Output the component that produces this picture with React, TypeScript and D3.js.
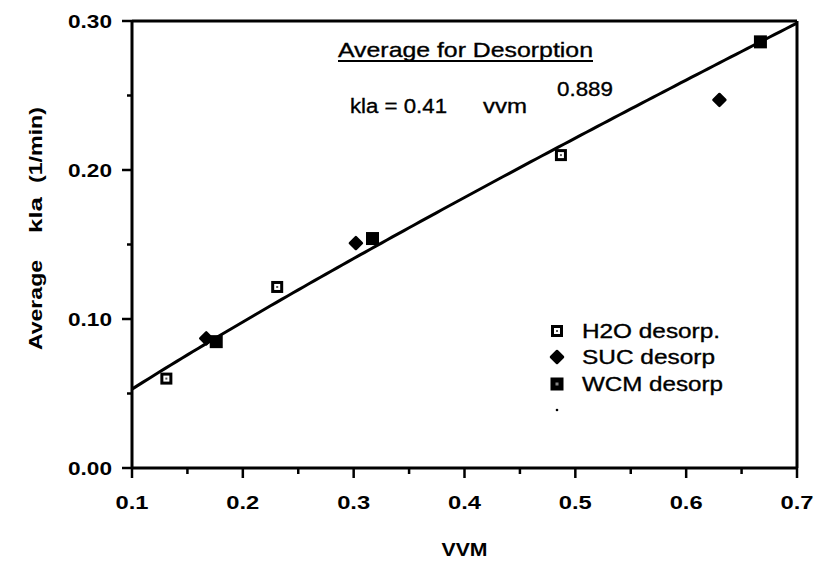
import React from "react";
import * as d3 from "d3";

const xTickValues = [0.1, 0.2, 0.3, 0.4, 0.5, 0.6, 0.7];
const xTickLabels = ["0.1", "0.2", "0.3", "0.4", "0.5", "0.6", "0.7"];
const xMinorTicks = [0.15, 0.25, 0.35, 0.45, 0.55, 0.65];
const yTickValues = [0.0, 0.1, 0.2, 0.3];
const yTickLabels = ["0.00", "0.10", "0.20", "0.30"];
const yMinorTicks = [0.05, 0.15, 0.25];

const h2oVvm = [0.131, 0.231, 0.487];
const h2oKla = [0.06, 0.1215, 0.21];
const sucVvm = [0.167, 0.302, 0.63];
const sucKla = [0.087, 0.151, 0.247];
const wcmVvm = [0.176, 0.317, 0.667];
const wcmKla = [0.0848, 0.154, 0.286];

const fitCoef = 0.41;
const fitExp = 0.889;

const legendLabels = ["H2O desorp.", "SUC desorp", "WCM desorp"];

const FONT = "'Liberation Sans', Arial, Helvetica, sans-serif";

const W = 825;
const H = 566;
const L = 132, R = 797, T = 21, B = 468;

function H2OMark({ x, y }: { x: number; y: number }) {
  return (
    <g>
      <rect x={x - 6} y={y - 6} width={12} height={12} fill="#000" />
      <rect x={x - 3} y={y - 3} width={6} height={6} fill="#fff" />
      <rect x={x - 1} y={y - 1} width={2} height={2} fill="#555" />
    </g>
  );
}
function SUCMark({ x, y }: { x: number; y: number }) {
  const r = 6;
  return (
    <path
      d={`M${x},${y - r}L${x + r},${y}L${x},${y + r}L${x - r},${y}Z`}
      fill="#000"
      stroke="#000"
      strokeWidth={2.5}
      strokeLinejoin="round"
    />
  );
}
function WCMMark({ x, y, legend }: { x: number; y: number; legend?: boolean }) {
  return (
    <g>
      <rect x={x - 6.5} y={y - 6.5} width={13} height={13} fill="#000" />
      {legend ? <rect x={x - 1.5} y={y - 1.5} width={3} height={3} fill="#888" /> : null}
    </g>
  );
}

const txtStroke = { stroke: "#000", strokeWidth: 0.35 };

export default function App() {
  const x = d3.scaleLinear().domain([0.1, 0.7]).range([L, R]);
  const y = d3.scaleLinear().domain([0, 0.3]).range([B, T]);

  const fitXs = d3.range(0.1, 0.7001, 0.005);
  const fitLine = d3
    .line<number>()
    .x((v) => x(v))
    .y((v) => y(fitCoef * Math.pow(v, fitExp)))
    .curve(d3.curveLinear)(fitXs) as string;

  const legendX = 557;
  const legendTextX = 582;
  const legendY = [331, 357, 384];
  const legendLens = [138, 133, 141];

  return (
    <svg
      width={W}
      height={H}
      style={{ position: "absolute", left: 0, top: 0, background: "#fff" }}
      fontFamily={FONT}
    >
      <rect x={0} y={0} width={W} height={H} fill="#fff" />
      {/* frame */}
      <line x1={L} y1={T} x2={R} y2={T} stroke="#000" strokeWidth={3} />
      <line x1={R} y1={T} x2={R} y2={B} stroke="#000" strokeWidth={3} />
      {/* axes */}
      <line x1={L} y1={T - 1} x2={L} y2={B + 1} stroke="#000" strokeWidth={3} />
      <line x1={L - 1} y1={B} x2={R + 1} y2={B} stroke="#000" strokeWidth={3} />

      {/* x ticks */}
      {xTickValues.map((v, i) => (
        <g key={"xt" + i}>
          <line x1={x(v)} y1={B} x2={x(v)} y2={B + 10} stroke="#000" strokeWidth={2.5} />
          <text
            x={x(v)}
            y={509}
            textAnchor="middle"
            fontSize={19}
            fontWeight="bold"
            textLength={33}
            lengthAdjust="spacingAndGlyphs"
          >
            {xTickLabels[i]}
          </text>
        </g>
      ))}
      {xMinorTicks.map((v, i) => (
        <line key={"xm" + i} x1={x(v)} y1={B} x2={x(v)} y2={B + 6} stroke="#000" strokeWidth={2.5} />
      ))}

      {/* y ticks */}
      {yTickValues.map((v, i) => (
        <g key={"yt" + i}>
          <line x1={L - 10} y1={y(v)} x2={L} y2={y(v)} stroke="#000" strokeWidth={2.5} />
          <text
            x={112}
            y={y(v) + 6.5}
            textAnchor="end"
            fontSize={18}
            fontWeight="bold"
            textLength={44}
            lengthAdjust="spacingAndGlyphs"
          >
            {yTickLabels[i]}
          </text>
        </g>
      ))}
      {yMinorTicks.map((v, i) => (
        <line key={"ym" + i} x1={L - 5} y1={y(v)} x2={L} y2={y(v)} stroke="#000" strokeWidth={2.5} />
      ))}

      {/* fit line */}
      <path d={fitLine} fill="none" stroke="#000" strokeWidth={3} />

      {/* points */}
      {h2oVvm.map((v, i) => (
        <H2OMark key={"h" + i} x={x(v)} y={y(h2oKla[i])} />
      ))}
      {sucVvm.map((v, i) => (
        <SUCMark key={"s" + i} x={x(v)} y={y(sucKla[i])} />
      ))}
      {wcmVvm.map((v, i) => (
        <WCMMark key={"w" + i} x={x(v)} y={y(wcmKla[i])} />
      ))}

      {/* annotation */}
      <text x={338} y={57} fontSize={21} textLength={255} lengthAdjust="spacingAndGlyphs" {...txtStroke}>
        Average for Desorption
      </text>
      <line x1={338} y1={61} x2={593} y2={61} stroke="#000" strokeWidth={2} />
      <text x={350} y={113} fontSize={20} textLength={97} lengthAdjust="spacingAndGlyphs" {...txtStroke}>
        kla = 0.41
      </text>
      <text x={483} y={113} fontSize={20} textLength={44} lengthAdjust="spacingAndGlyphs" {...txtStroke}>
        vvm
      </text>
      <text x={557} y={96} fontSize={20} textLength={56} lengthAdjust="spacingAndGlyphs" {...txtStroke}>
        0.889
      </text>

      {/* legend */}
      <H2OMark x={legendX} y={legendY[0]} />
      <SUCMark x={legendX} y={legendY[1]} />
      <WCMMark x={legendX} y={legendY[2]} legend />
      <circle cx={legendX} cy={410} r={1.3} fill="#000" />
      {legendLabels.map((t, i) => (
        <text
          key={"lg" + i}
          x={legendTextX}
          y={legendY[i] + 7}
          fontSize={20}
          textLength={legendLens[i]}
          lengthAdjust="spacingAndGlyphs"
          {...txtStroke}
        >
          {t}
        </text>
      ))}

      {/* axis titles */}
      <text
        x={x(0.4)}
        y={556}
        textAnchor="middle"
        fontSize={19}
        fontWeight="bold"
        textLength={46}
        lengthAdjust="spacingAndGlyphs"
      >
        VVM
      </text>
      <g transform="translate(42,0) rotate(-90)">
        <text x={-350} y={0} fontSize={18} fontWeight="bold" textLength={90} lengthAdjust="spacingAndGlyphs">
          Average
        </text>
        <text x={-233} y={0} fontSize={18} fontWeight="bold" textLength={36} lengthAdjust="spacingAndGlyphs">
          kla
        </text>
        <text x={-183} y={0} fontSize={18} fontWeight="bold" textLength={76} lengthAdjust="spacingAndGlyphs">
          (1/min)
        </text>
      </g>
    </svg>
  );
}
